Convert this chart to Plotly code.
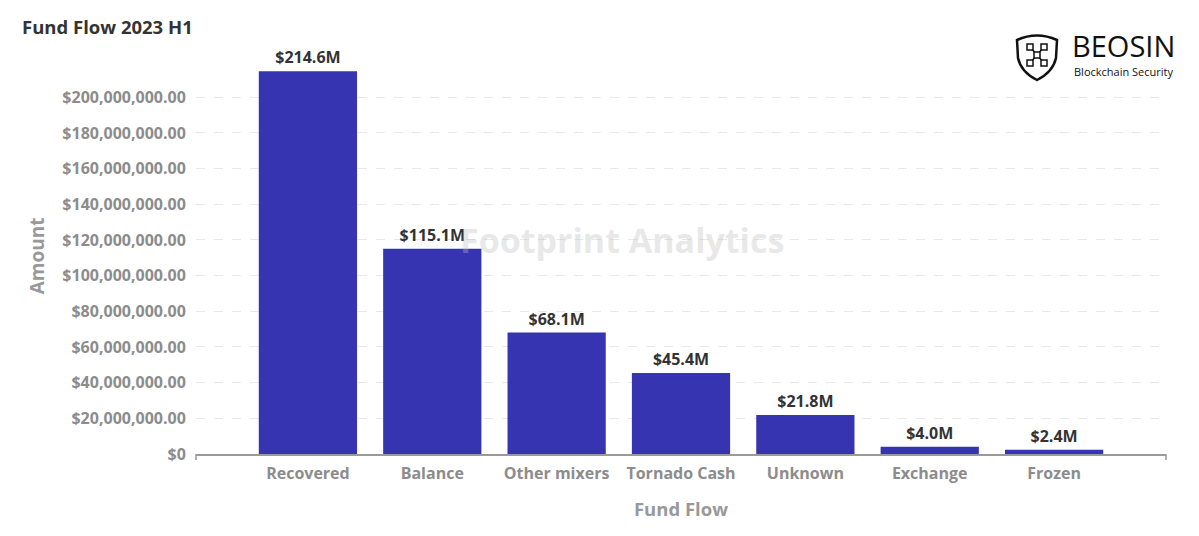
import plotly.graph_objects as go

# data
categories = ['Recovered', 'Balance', 'Other mixers', 'Tornado Cash', 'Unknown', 'Exchange', 'Frozen']
amounts = [214.6e6, 115.1e6, 68.1e6, 45.4e6, 21.8e6, 4.0e6, 2.4e6]
bar_labels = ['$214.6M', '$115.1M', '$68.1M', '$45.4M', '$21.8M', '$4.0M', '$2.4M']
y_tick_vals = [0, 20e6, 40e6, 60e6, 80e6, 100e6, 120e6, 140e6, 160e6, 180e6, 200e6]
y_tick_text = ['$0'] + ['${:,.2f}'.format(v) for v in y_tick_vals[1:]]

# page body has an 8px margin, so the figure is a bit smaller than the window
W, H = 1199, 536
O = 8
FW, FH = W - 2 * O, H - 2 * O
L, R, T, B = 196 - O, W - 1166 - O, 58 - O, H - 454 - O


# window pixel -> paper coords (for the logo / decoration)
def px(x):
    return (x - O - L) / (FW - L - R)


def py(y):
    return (FH - B - (y - O)) / (FH - T - B)


fig = go.Figure()
fig.add_trace(go.Bar(
    x=categories, y=amounts, text=['<b>%s</b>' % t for t in bar_labels], textposition='outside',
    textfont=dict(size=16, color='#333333', family='Open Sans'),
    marker=dict(color='#3634B0', line=dict(width=0)),
    width=0.79, cliponaxis=False, hoverinfo='x+y'
))

fig.update_layout(
    width=FW, height=FH,
    margin=dict(l=L, r=R, t=T, b=B),
    paper_bgcolor='white', plot_bgcolor='white',
    font=dict(family='Open Sans', color='#8c8c8c'),
    showlegend=False,
    title=dict(text='<b>Fund Flow 2023 H1</b>', x=(22 - O) / FW, xanchor='left',
               y=1 - (28 - O) / FH, yanchor='middle',
               font=dict(size=18.5, color='#333333')),
)
fig.update_xaxes(
    range=[-0.9, 6.9], showgrid=False, showline=True, linecolor='#9a9a9a', linewidth=1.5,
    ticks='outside', ticklen=4, tickcolor='rgba(0,0,0,0)', tickfont=dict(size=16, color='#8c8c8c'),
    tickvals=categories, ticktext=['<b>%s</b>' % c for c in categories],
    title=dict(text='<b>Fund Flow</b>', font=dict(size=18.5, color='#999999'), standoff=20),
)
fig.update_yaxes(
    range=[0, 222e6], tickvals=y_tick_vals, ticktext=['<b>%s</b>' % t for t in y_tick_text],
    tickfont=dict(size=16, color='#8c8c8c'), ticklen=6, ticks='outside', tickcolor='rgba(0,0,0,0)',
    showgrid=True, gridcolor='#e8e8e8', griddash='dash', gridwidth=1, zeroline=False,
    title=dict(text='<b>Amount</b>', font=dict(size=19, color='#999999'), standoff=12),
)

# watermark
fig.add_annotation(text='<b>Footprint Analytics</b>', x=px(622), y=py(240), xref='paper', yref='paper',
                   xanchor='center', yanchor='middle',
                   showarrow=False, font=dict(size=34, color='rgba(190,190,190,0.35)', family='Open Sans'))

# BEOSIN logo
fig.add_annotation(text='BEOSIN', x=px(1071), y=py(66), xref='paper', yref='paper',
                   xanchor='left', yanchor='bottom', borderpad=0,
                   showarrow=False, font=dict(size=29, color='#111111', family='Open Sans'))
fig.add_annotation(text='Blockchain Security', x=px(1073), y=py(63), xref='paper', yref='paper',
                   xanchor='left', yanchor='top', borderpad=0,
                   showarrow=False, font=dict(size=11, color='#111111', family='Open Sans'))
shield = 'M{},{} Q{},{} {},{} L{},{} Q{},{} {},{} Q{},{} {},{} Z'.format(
    px(1017), py(40), px(1037), py(31), px(1057), py(40), px(1056), py(58),
    px(1053), py(72), px(1037), py(80), px(1021), py(72), px(1018), py(58))
fig.add_shape(type='path', path=shield, xref='paper', yref='paper', line=dict(color='#111111', width=2.5))
fig.add_shape(type='path', xref='paper', yref='paper',
              path='M{},{} L{},{} M{},{} L{},{}'.format(px(1030), py(47), px(1044), py(63),
                                                        px(1044), py(47), px(1030), py(63)),
              line=dict(color='#111111', width=1.5))
for cx, cy in [(1030, 47), (1044, 47), (1037, 55), (1030, 63), (1044, 63)]:
    fig.add_shape(type='rect', xref='paper', yref='paper', x0=px(cx - 3), x1=px(cx + 3),
                  y0=py(cy + 3), y1=py(cy - 3),
                  line=dict(color='#111111', width=1.5), fillcolor='white')

# small end ticks on the x axis
for x in (196, 1166):
    fig.add_shape(type='line', xref='paper', yref='paper', x0=px(x), x1=px(x), y0=0, y1=py(460),
                  line=dict(color='#9a9a9a', width=1.5))

fig.write_html('out.html')
